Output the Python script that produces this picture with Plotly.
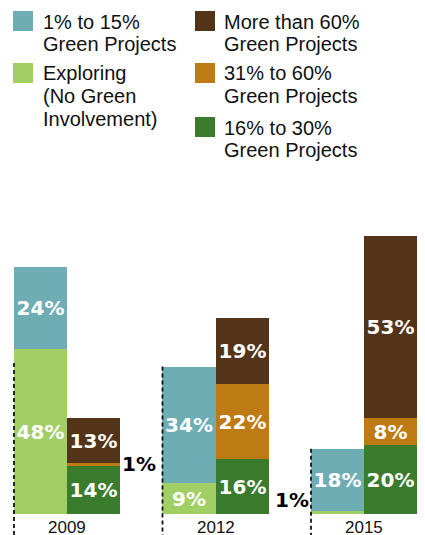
import plotly.graph_objects as go

# ---------------- data ----------------
years = ["2009", "2012", "2015"]
exploring = [48, 9, 1]          # Exploring (No Green Involvement)
low_green = [24, 34, 18]        # 1% to 15% Green Projects
mid_green = [14, 16, 20]        # 16% to 30% Green Projects
high_green = [1, 22, 8]         # 31% to 60% Green Projects
top_green = [13, 19, 53]        # More than 60% Green Projects

names = {
    "low": ["1% to 15%", "Green Projects"],
    "exp": ["Exploring", "(No Green", "Involvement)"],
    "top": ["More than 60%", "Green Projects"],
    "high": ["31% to 60%", "Green Projects"],
    "mid": ["16% to 30%", "Green Projects"],
}
colors = {
    "low": "#6FADB5",
    "exp": "#A2CE66",
    "top": "#533419",
    "high": "#BE7B14",
    "mid": "#3A7B2E",
}
divider_top_pct = [44, 43, 19]   # where the dashed separators start

# ---------------- layout constants ----------------
PAGE_W, PAGE_H = 425, 535
OFF = 8                          # default body margin of the html page
W, H = PAGE_W - OFF, PAGE_H - OFF
BW = 0.357          # bar width in group units
SMALL = 3           # values below this are labelled outside
LABEL_FONT = dict(family="DejaVu Sans", size=20, color="white")

fig = go.Figure()
gx = list(range(len(years)))
left_x = [g - BW / 2 for g in gx]
right_x = [g + BW / 2 for g in gx]


def add_series(xs, vals, key):
    fig.add_trace(go.Bar(
        x=xs, y=vals, width=BW,
        marker=dict(color=colors[key], line=dict(width=0)),
        text=[f"<b>{v}%</b>" if v >= SMALL else "" for v in vals],
        textposition="inside", insidetextanchor="middle", textangle=0,
        constraintext="none", textfont=LABEL_FONT,
        name=" ".join(names[key]), showlegend=False, hoverinfo="skip",
    ))


add_series(left_x, exploring, "exp")
add_series(left_x, low_green, "low")
add_series(right_x, mid_green, "mid")
add_series(right_x, high_green, "high")
add_series(right_x, top_green, "top")

annotations = []
shapes = []

# outside labels for tiny segments
left_stack = [exploring, low_green]
right_stack = [mid_green, high_green, top_green]
for side, stack, xs in (("left", left_stack, left_x), ("right", right_stack, right_x)):
    for i in range(len(years)):
        base = 0
        for series in stack:
            v = series[i]
            if v < SMALL:
                c = base + v / 2
                if c < 2.4:
                    y, ya = 0, "bottom"
                else:
                    y, ya = c, "middle"
                annotations.append(dict(
                    x=xs[i] + (BW / 2 if side == "right" else -BW / 2), y=y,
                    xref="x", yref="y", text=f"<b>{v}%</b>", showarrow=False,
                    xanchor="left" if side == "right" else "right", yanchor=ya,
                    font=dict(family="DejaVu Sans", size=20, color="black"),
                ))
            base += v

# year labels
for g, yr in zip(gx, years):
    annotations.append(dict(x=g, y=0, xref="x", yref="y", text=yr, showarrow=False,
                            xanchor="center", yanchor="top", yshift=-2,
                            font=dict(family="Liberation Sans", size=17, color="#111")))

# dashed separators
for g, top in zip(gx, divider_top_pct):
    shapes.append(dict(type="line", xref="x", yref="y", x0=g - BW, x1=g - BW,
                       y0=top, y1=-10, line=dict(color="#111", width=1.8, dash="4px,3px")))

# manual legend (page pixel positions)
legend_cols = [
    (13, 41, [("low", 11), ("exp", 63)]),
    (195, 222, [("top", 11), ("high", 63), ("mid", 117)]),
]
LINE_H = 22.7
for sq_x, tx, items in legend_cols:
    for key, top in items:
        shapes.append(dict(type="rect", xref="paper", yref="paper",
                           x0=(sq_x - OFF) / W, x1=(sq_x + 20 - OFF) / W,
                           y0=1 - (top + 20 - OFF) / H, y1=1 - (top - OFF) / H,
                           fillcolor=colors[key], line=dict(width=0)))
        for j, line in enumerate(names[key]):
            cy = top + 10.5 + j * LINE_H - OFF
            annotations.append(dict(x=(tx - OFF) / W, y=1 - cy / H, xref="paper", yref="paper",
                                    text=line, showarrow=False, xanchor="left",
                                    yanchor="middle",
                                    font=dict(family="Liberation Sans", size=20, color="#111")))

y_per_px = 3.43
base_px = 514 - OFF
g0_px = 67 - OFF
g_step = 148.5
fig.update_layout(
    width=W, height=H,
    margin=dict(l=0, r=0, t=0, b=0),
    paper_bgcolor="white", plot_bgcolor="white",
    barmode="stack", bargap=0,
    xaxis=dict(range=[-g0_px / g_step, (W - g0_px) / g_step], visible=False, fixedrange=True),
    yaxis=dict(range=[-(H - base_px) / y_per_px, base_px / y_per_px], visible=False, fixedrange=True),
    annotations=annotations, shapes=shapes,
    showlegend=False,
)

fig.write_html("out.html")
